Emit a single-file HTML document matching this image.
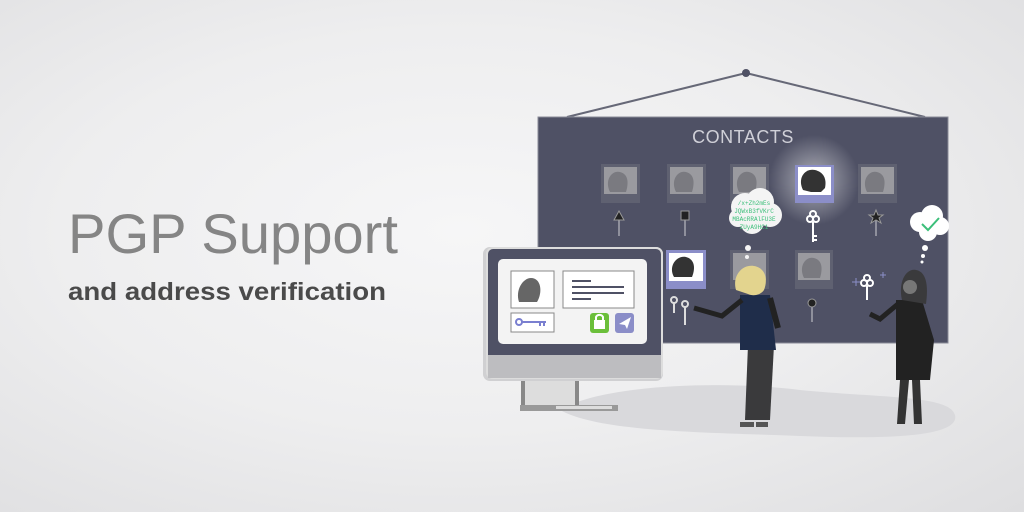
<!DOCTYPE html>
<html><head><meta charset="utf-8"><style>
html,body{margin:0;padding:0;}
body{width:1024px;height:512px;overflow:hidden;background:radial-gradient(ellipse at 45% 45%,#f6f6f7 0%,#eeeeef 50%,#dedee0 100%);}
svg{position:absolute;left:0;top:0;}
</style></head><body>
<svg width="1024" height="512" viewBox="0 0 1024 512" font-family="Liberation Sans, sans-serif">
<defs>
<radialGradient id="glow"><stop offset="0" stop-color="#ffffff" stop-opacity="0.55"/><stop offset="1" stop-color="#ffffff" stop-opacity="0"/></radialGradient>
</defs>
<text x="68" y="253" font-size="56" fill="#858585" textLength="330" lengthAdjust="spacingAndGlyphs" style="font-weight:300">PGP Support</text>
<text x="68" y="300" font-size="25" font-weight="bold" fill="#4a4a4a" textLength="318" lengthAdjust="spacingAndGlyphs">and address verification</text>

<!-- floor shadow -->
<path d="M560 410 C600 385 720 380 800 390 C880 398 950 395 955 415 C960 435 900 440 800 436 C700 432 600 432 560 410z" fill="#d9d9dc"/>

<!-- hanger -->
<line x1="567" y1="117" x2="746" y2="73" stroke="#666877" stroke-width="2"/>
<line x1="925" y1="117" x2="746" y2="73" stroke="#666877" stroke-width="2"/>
<circle cx="746" cy="73" r="4" fill="#4f5165"/>

<!-- board -->
<rect x="538" y="117" width="410" height="226" fill="#4f5165" stroke="#8a8b98" stroke-width="1"/>
<text x="743" y="143" font-size="18" fill="#d0d0d8" text-anchor="middle" letter-spacing="0.5">CONTACTS</text>

<circle cx="814" cy="180" r="45" fill="url(#glow)"/>

<!-- row1 photos -->
<g>
<rect x="601" y="164" width="39" height="39" fill="#5f6171"/><rect x="604" y="167" width="33" height="27" fill="#9a9a9f"/><path d="M610 192c-6-12 2-22 10-20 8 2 9 10 6 20z" fill="#7a7a80"/>
<rect x="667" y="164" width="39" height="39" fill="#5f6171"/><rect x="670" y="167" width="33" height="27" fill="#9a9a9f"/><path d="M676 192c-6-12 2-22 10-20 8 2 9 10 6 20z" fill="#7a7a80"/>
<rect x="730" y="164" width="39" height="39" fill="#5f6171"/><rect x="733" y="167" width="33" height="27" fill="#9a9a9f"/><path d="M739 192c-6-12 2-22 10-20 8 2 9 10 6 20z" fill="#7a7a80"/>
<rect x="858" y="164" width="39" height="39" fill="#5f6171"/><rect x="861" y="167" width="33" height="27" fill="#9a9a9f"/><path d="M867 192c-6-12 2-22 10-20 8 2 9 10 6 20z" fill="#7a7a80"/>
</g>
<rect x="795" y="165" width="39" height="38" fill="#8b8ec8"/><rect x="798" y="167" width="33" height="28" fill="#fff"/>
<path d="M803 190c-6-12 2-22 12-20 8 2 12 8 10 18l-4 4h-10z" fill="#333"/>

<!-- row1 keys -->
<g stroke="#8f909c" stroke-width="2" fill="none">
<line x1="619" y1="218" x2="619" y2="236"/><line x1="685" y1="218" x2="685" y2="236"/><line x1="876" y1="218" x2="876" y2="236"/>
</g>
<path d="M614 220l5-9 5 9z" fill="#222" stroke="#999"/>
<rect x="681" y="211" width="8" height="9" fill="#222" stroke="#999"/>
<path d="M876 210l2 5 5 0-4 3 2 5-5-3-5 3 2-5-4-3 5 0z" fill="#222" stroke="#999"/>
<g stroke="#fff" stroke-width="2" fill="none"><circle cx="813" cy="214" r="3"/><circle cx="810" cy="219" r="3"/><circle cx="816" cy="219" r="3"/><line x1="813" y1="222" x2="813" y2="242"/><line x1="813" y1="236" x2="817" y2="236"/><line x1="813" y1="240" x2="817" y2="240"/></g>

<!-- row2 photos -->
<rect x="666" y="250" width="40" height="39" fill="#8b8ec8"/><rect x="669" y="253" width="34" height="28" fill="#fff"/>
<path d="M674 277c-6-10 2-22 12-20 8 2 10 10 6 20z" fill="#333"/>
<rect x="730" y="250" width="39" height="39" fill="#5f6171"/><rect x="733" y="253" width="33" height="27" fill="#9a9a9f"/>
<rect x="795" y="250" width="38" height="39" fill="#5f6171"/><rect x="798" y="253" width="32" height="27" fill="#9a9a9f"/><path d="M804 278c-6-12 2-22 10-20 8 2 9 10 6 20z" fill="#7a7a80"/>
<g stroke="#ddd" stroke-width="2" fill="none"><circle cx="674" cy="300" r="3"/><line x1="674" y1="303" x2="674" y2="313"/><circle cx="685" cy="304" r="3"/><line x1="685" y1="307" x2="685" y2="325"/></g>
<circle cx="812" cy="303" r="4" fill="#222" stroke="#999"/><line x1="812" y1="307" x2="812" y2="322" stroke="#8f909c" stroke-width="2"/>
<g stroke="#fff" stroke-width="2" fill="none"><circle cx="867" cy="278" r="3"/><circle cx="864" cy="283" r="3"/><circle cx="870" cy="283" r="3"/><line x1="867" y1="286" x2="867" y2="300"/></g>
<g stroke="#8b8ec8" stroke-width="1"><path d="M852 282h8M856 278v8M880 275h6M883 272v6"/></g>

<!-- thought bubbles -->
<g fill="#f4f4f4"><circle cx="745" cy="207" r="14"/><circle cx="760" cy="202" r="14"/><circle cx="770" cy="215" r="12"/><circle cx="752" cy="222" r="12"/><circle cx="738" cy="218" r="9"/></g>
<g font-size="6" fill="#3cbf7a" font-family="Liberation Mono, monospace" text-anchor="middle"><text x="754" y="205">/x+Zh2mEs</text><text x="754" y="213">JQWxB3fVKrC</text><text x="754" y="221">MBAcRRAlFU3E</text><text x="754" y="229">ZUyA9HC1</text></g>
<circle cx="748" cy="248" r="3" fill="#f4f4f4"/><circle cx="747" cy="257" r="2" fill="#f4f4f4"/>
<g fill="#fff"><circle cx="920" cy="222" r="10"/><circle cx="932" cy="216" r="11"/><circle cx="940" cy="226" r="9"/><circle cx="928" cy="232" r="9"/></g>
<path d="M922 224l6 6 11-12" stroke="#3cbf7a" stroke-width="2" fill="none"/>
<circle cx="925" cy="248" r="3" fill="#fff"/><circle cx="923" cy="256" r="2" fill="#fff"/><circle cx="922" cy="262" r="1.5" fill="#fff"/>

<!-- person 1 -->
<path d="M745 420l3-75h26l-4 75z" fill="#3a3a3c"/>
<path d="M740 295h30l6 55h-36z" fill="#1f2d4a"/>
<path d="M742 300l-20 16-28 -8" stroke="#222" stroke-width="5" fill="none"/>
<path d="M770 298l8 30" stroke="#222" stroke-width="6" fill="none"/>
<path d="M736 290c-4-14 6-26 18-24 12 2 14 14 10 24-4 6-12 6-16 4z" fill="#e3d48e"/>
<rect x="740" y="422" width="14" height="5" fill="#555"/><rect x="756" y="422" width="12" height="5" fill="#555"/>

<!-- person 2 -->
<path d="M896 300h26l12 40-4 40h-34z" fill="#222"/>
<path d="M898 304l-18 15-10-5" stroke="#222" stroke-width="5" fill="none"/>
<path d="M900 380l-3 44h8l4-44zM912 380l2 44h8l-2-44z" fill="#333"/>
<path d="M902 300c-4-18 4-32 14-30 12 2 12 20 10 34z" fill="#3a3a3c"/>
<circle cx="910" cy="287" r="7" fill="#777"/>

<!-- monitor -->
<rect x="521" y="375" width="58" height="33" fill="#888"/><rect x="525" y="375" width="50" height="30" fill="#ddd"/>
<rect x="520" y="405" width="98" height="6" fill="#999"/><rect x="556" y="406" width="56" height="3" fill="#ddd"/>
<rect x="483" y="247" width="180" height="134" rx="7" fill="#d0d0d2"/>
<rect x="487" y="248" width="175" height="130" rx="6" fill="#4f5165" stroke="#ddd" stroke-width="2"/>
<rect x="488" y="355" width="173" height="23" fill="#bdbdc0"/>
<rect x="498" y="259" width="149" height="85" rx="5" fill="#f3f3f3"/>
<rect x="511" y="271" width="43" height="37" fill="#fff" stroke="#888"/>
<path d="M519 302c-4-12 4-24 12-24 10 0 12 14 6 24z" fill="#666"/>
<rect x="563" y="271" width="71" height="37" fill="#fff" stroke="#888"/>
<g stroke="#4f5165" stroke-width="2"><line x1="572" y1="281" x2="591" y2="281"/><line x1="572" y1="287" x2="624" y2="287"/><line x1="572" y1="293" x2="624" y2="293"/><line x1="572" y1="299" x2="591" y2="299"/></g>
<rect x="511" y="313" width="43" height="19" fill="#fff" stroke="#888"/>
<g stroke="#7a7fd0" stroke-width="2" fill="none"><circle cx="519" cy="322" r="3"/><line x1="522" y1="322" x2="546" y2="322"/><line x1="540" y1="322" x2="540" y2="326"/><line x1="544" y1="322" x2="544" y2="326"/></g>
<rect x="590" y="313" width="19" height="20" rx="3" fill="#6bbf3a"/><rect x="594" y="320" width="11" height="9" fill="#fff"/><path d="M596 320v-3a4 4 0 0 1 7 0v3" stroke="#fff" stroke-width="2" fill="none"/>
<rect x="615" y="313" width="19" height="20" rx="3" fill="#8b8ec8"/><path d="M619 324l12-7-4 12-2-4z" fill="#fff"/>
</svg>
</body></html>
